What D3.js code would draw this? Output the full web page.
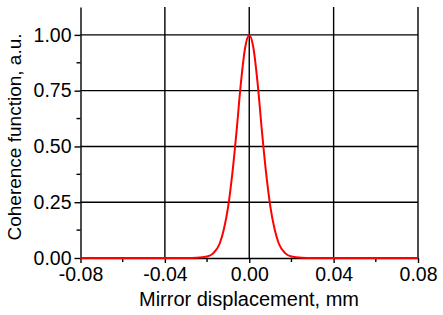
<!DOCTYPE html>
<html>
<head>
<meta charset="utf-8">
<script src="https://cdn.jsdelivr.net/npm/d3@7"></script>
<style>
  body { margin: 0; background: #fff; }
  text { font-family: Arial, "Liberation Sans", sans-serif; fill: #000; }
</style>
</head>
<body>
<svg id="chart" width="443" height="315"></svg>
<script>
// values
const displacement = [-0.08, -0.04, -0.03, -0.025, -0.02, -0.017, -0.014, -0.012, -0.01, -0.008, -0.006, -0.004, -0.002, 0,
  0.002, 0.004, 0.006, 0.008, 0.01, 0.012, 0.014, 0.017, 0.02, 0.025, 0.03, 0.04, 0.08];
const coherence = [0, 0, 0.0003, 0.0015, 0.007, 0.022, 0.065, 0.13, 0.23, 0.38, 0.57, 0.78, 0.94, 1.0,
  0.94, 0.78, 0.57, 0.38, 0.23, 0.13, 0.065, 0.022, 0.007, 0.0015, 0.0003, 0, 0];
const xTicks = [-0.08, -0.04, 0, 0.04, 0.08];
const xMinor = [-0.06, -0.02, 0.02, 0.06];
const yTicks = [0, 0.25, 0.5, 0.75, 1.0];
const yMinor = [0.125, 0.375, 0.625, 0.875];

const mLeft = 80.5, mRight = 418, mTop = 7, mBottom = 258;

const svg = d3.select("#chart");

const x = d3.scaleLinear().domain([-0.08, 0.08]).range([mLeft, mRight]);
const y = d3.scaleLinear().domain([0, 1.125]).range([mBottom, mTop]);

// grid
const grid = svg.append("g").attr("stroke", "#000").attr("stroke-width", 1.4);
grid.selectAll(".gx")
  .data(xTicks.slice(1))
  .enter().append("line")
  .attr("x1", d => x(d)).attr("x2", d => x(d))
  .attr("y1", mTop).attr("y2", mBottom);
grid.selectAll(".gy")
  .data(yTicks.slice(1))
  .enter().append("line")
  .attr("x1", mLeft).attr("x2", mRight)
  .attr("y1", d => y(d)).attr("y2", d => y(d));

// axes
const xAxis = svg.append("g").attr("transform", "translate(0," + mBottom + ")")
  .call(d3.axisBottom(x).tickValues(xTicks).tickSize(5).tickPadding(4).tickSizeOuter(0)
    .tickFormat(d => d === 0 ? "0.00" : d3.format(".2f")(d).replace("−", "-")));
xAxis.append("g").selectAll("line")
  .data(xMinor).enter().append("line")
  .attr("x1", d => x(d)).attr("x2", d => x(d)).attr("y1", 0).attr("y2", 4)
  .attr("stroke", "#000").attr("stroke-width", 1.4);

const yAxis = svg.append("g").attr("transform", "translate(" + mLeft + ",0)")
  .call(d3.axisLeft(y).tickValues(yTicks).tickSize(6).tickPadding(3).tickSizeOuter(0)
    .tickFormat(d3.format(".2f")));
yAxis.append("g").selectAll("line")
  .data(yMinor).enter().append("line")
  .attr("x1", 0).attr("x2", -4).attr("y1", d => y(d)).attr("y2", d => y(d))
  .attr("stroke", "#000").attr("stroke-width", 1.4);

[xAxis, yAxis].forEach(a => {
  a.select(".domain").attr("stroke", "#000").attr("stroke-width", 1.4);
  a.selectAll(".tick line").attr("stroke", "#000").attr("stroke-width", 1.4);
  a.selectAll(".tick text").attr("font-size", 19.5).attr("fill", "#000")
    .style("font-family", "Arial, 'Liberation Sans', sans-serif");
});

// curve
const line = d3.line()
  .x((d, i) => x(displacement[i]))
  .y(d => y(d))
  .curve(d3.curveMonotoneX);
svg.append("path")
  .datum(coherence)
  .attr("fill", "none")
  .attr("stroke", "#ff0000")
  .attr("stroke-width", 2)
  .attr("d", line);

// titles
svg.append("text")
  .attr("x", 249).attr("y", 306)
  .attr("text-anchor", "middle").attr("font-size", 20)
  .text("Mirror displacement, mm");
svg.append("text")
  .attr("transform", "translate(21,137) rotate(-90)")
  .attr("text-anchor", "middle").attr("font-size", 19)
  .text("Coherence function, a.u.");
</script>
</body>
</html>
